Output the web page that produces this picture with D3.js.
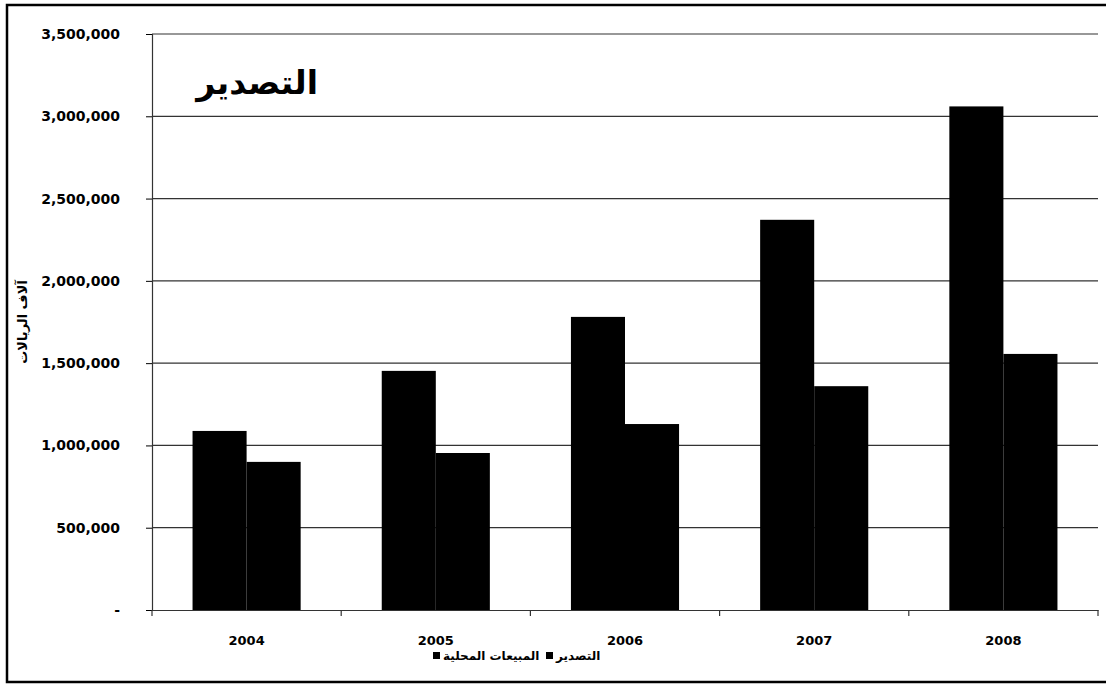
<!DOCTYPE html>
<html>
<head>
<meta charset="utf-8">
<script src="https://cdn.jsdelivr.net/npm/d3@7"></script>
<style>
  body { margin: 0; background: #fff; }
  svg { display: block; }
</style>
</head>
<body>
<div id="chart"></div>
<script>
// Data
const years = ["2004", "2005", "2006", "2007", "2008"];
const exportsVals = [1088000, 1453000, 1781000, 2371000, 3060000];
const domesticVals = [900000, 954000, 1130000, 1360000, 1556000];
const seriesNames = ["التصدير", "المبيعات المحلية"];
const yTicks = [0, 500000, 1000000, 1500000, 2000000, 2500000, 3000000, 3500000];

const width = 1106, height = 686;
const marginLeft = 152, marginRight = 8, marginTop = 34, marginBottom = 76;

var svg = d3.select("#chart").append("svg")
    .attr("width", width)
    .attr("height", height);

// outer frame
svg.append("rect")
    .attr("x", 7).attr("y", 5)
    .attr("width", width + 10).attr("height", 677)
    .attr("fill", "none")
    .attr("stroke", "#000")
    .attr("stroke-width", 2.5);

var x = d3.scaleBand()
    .domain(years)
    .range([marginLeft, width - marginRight]);

var xInner = d3.scaleBand()
    .domain([0, 1])
    .range([0, x.bandwidth()])
    .paddingOuter(0.75)
    .paddingInner(0);

var y = d3.scaleLinear()
    .domain([0, 3500000])
    .range([height - marginBottom, marginTop]);

// gridlines
svg.append("g")
    .selectAll("line")
    .data(yTicks.slice(1))
    .enter().append("line")
    .attr("x1", marginLeft)
    .attr("x2", width - marginRight)
    .attr("y1", d => y(d))
    .attr("y2", d => y(d))
    .attr("stroke", "#333")
    .attr("stroke-width", 1.2);

// bars
const data = years.map((yr, i) => ({ year: yr, vals: [exportsVals[i], domesticVals[i]] }));

svg.append("g")
    .selectAll("g")
    .data(data)
    .enter().append("g")
    .attr("transform", d => `translate(${x(d.year)},0)`)
    .selectAll("rect")
    .data(d => d.vals.map((v, k) => ({ k: k, v: v })))
    .enter().append("rect")
    .attr("x", d => xInner(d.k))
    .attr("width", xInner.bandwidth())
    .attr("y", d => y(d.v))
    .attr("height", d => y(0) - y(d.v))
    .attr("fill", "#000");

// y axis
const fmt = d3.format(",");
svg.append("g")
    .attr("transform", `translate(${marginLeft},0)`)
    .call(d3.axisLeft(y).tickValues(yTicks).tickSize(6).tickPadding(26)
        .tickFormat(d => d === 0 ? "-" : fmt(d)))
    .call(g => g.selectAll("text")
        .attr("font-family", "DejaVu Sans, sans-serif")
        .attr("font-weight", "bold")
        .attr("font-size", 14)
        .attr("fill", "#000"))
    .call(g => g.select(".domain").attr("stroke", "#333").attr("stroke-width", 1.2));

// x axis
svg.append("g")
    .attr("transform", `translate(0,${y(0)})`)
    .call(d3.axisBottom(x).tickSize(0).tickPadding(26))
    .call(g => g.select(".domain").attr("stroke", "#333").attr("stroke-width", 1.2))
    .call(g => g.selectAll("text")
        .attr("font-family", "DejaVu Sans, sans-serif")
        .attr("font-weight", "bold")
        .attr("font-size", 13)
        .attr("fill", "#000"));

// category boundary ticks
svg.append("g")
    .selectAll("line")
    .data(years.concat(["end"]))
    .enter().append("line")
    .attr("x1", (d, i) => i < years.length ? x(d) : x(years[years.length - 1]) + x.bandwidth())
    .attr("x2", (d, i) => i < years.length ? x(d) : x(years[years.length - 1]) + x.bandwidth())
    .attr("y1", y(0))
    .attr("y2", y(0) + 6)
    .attr("stroke", "#333")
    .attr("stroke-width", 1.2);

// title
svg.append("text")
    .attr("x", 318)
    .attr("y", 94)
    .attr("text-anchor", "end")
    .attr("font-family", "DejaVu Sans, sans-serif")
    .attr("font-weight", "bold")
    .attr("font-size", 33)
    .text("التصدير");

// y axis title
svg.append("text")
    .attr("transform", "translate(27,322) rotate(-90)")
    .attr("text-anchor", "middle")
    .attr("font-family", "DejaVu Sans, sans-serif")
    .attr("font-weight", "bold")
    .attr("font-size", 13)
    .text("آلاف الريالات");

// legend
const legendItems = [
    { name: seriesNames[1], x: 433 },
    { name: seriesNames[0], x: 546 }
];
var legend = svg.append("g").attr("transform", "translate(0,657)");
legendItems.forEach(function(item) {
    legend.append("rect")
        .attr("x", item.x).attr("y", -5)
        .attr("width", 7).attr("height", 7)
        .attr("fill", "#000");
    legend.append("text")
        .attr("x", item.x + 10)
        .attr("y", 3)
        .attr("text-anchor", "start")
        .attr("font-family", "DejaVu Sans, sans-serif")
        .attr("font-weight", "bold")
        .attr("font-size", 12)
        .text(item.name);
});
</script>
</body>
</html>
